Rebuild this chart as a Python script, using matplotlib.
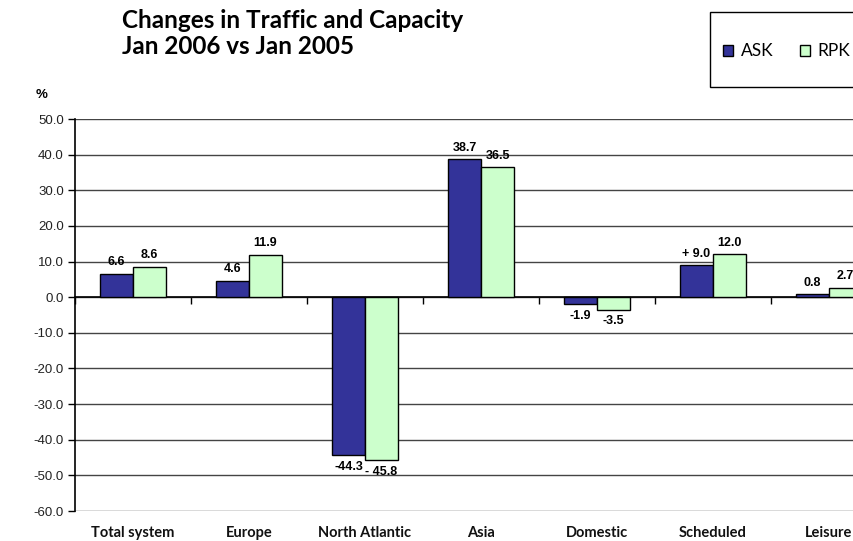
import matplotlib
matplotlib.use("Agg")
import matplotlib.pyplot as plt
import numpy as np
from matplotlib.patches import Rectangle

categories = ["Total system", "Europe", "North Atlantic", "Asia", "Domestic", "Scheduled", "Leisure"]
ask = [6.6, 4.6, -44.3, 38.7, -1.9, 9.0, 0.8]
rpk = [8.6, 11.9, -45.8, 36.5, -3.5, 12.0, 2.7]
ask_labels = ["6.6", "4.6", "-44.3", "38.7", "-1.9", "+ 9.0", "0.8"]
rpk_labels = ["8.6", "11.9", "- 45.8", "36.5", "-3.5", "12.0", "2.7"]
yticks = [50, 40, 30, 20, 10, 0, -10, -20, -30, -40, -50, -60]

W, H = 854, 541
fig = plt.figure(figsize=(W / 100, H / 100), dpi=100)
left, right = 75, 887
top, bottom = 119, 511
ax = fig.add_axes([left / W, 1 - bottom / H, (right - left) / W, (bottom - top) / H])

x = np.arange(len(categories))
bw = 0.285
ax.bar(x - bw / 2, ask, bw, color="#333399", edgecolor="black", linewidth=1, zorder=3, label="ASK")
ax.bar(x + bw / 2, rpk, bw, color="#CCFFCC", edgecolor="black", linewidth=1, zorder=3, label="RPK")

ax.set_xlim(-0.5, len(categories) - 0.5)
ax.set_ylim(-60, 50)
ax.set_yticks(yticks)
ax.set_yticklabels([f"{v:.1f}" for v in yticks], fontsize=9.5, family="Liberation Sans", color="#222222")
ax.yaxis.grid(True, color="#444444", linewidth=1, zorder=0)
ax.set_axisbelow(True)

for s in ["top", "right"]:
    ax.spines[s].set_visible(False)
ax.spines["left"].set_linewidth(1.2)
ax.spines["bottom"].set_position(("data", 0))
ax.spines["bottom"].set_linewidth(1.2)
ax.tick_params(axis="y", direction="out", length=5, width=1, pad=3)

# category boundary ticks on zero line
ax.set_xticks(np.arange(-0.5, len(categories) - 0.5 + 0.01, 1.0))
ax.set_xticklabels([])
ax.tick_params(axis="x", direction="out", length=5, width=1)

for i, c in enumerate(categories):
    ax.text(x[i], -0.056, c, transform=ax.get_xaxis_transform(), ha="center", va="center",
            fontsize=10.5, fontweight="bold", family="Lato", color="#111111")

def lab(xp, v, t):
    if v >= 0:
        ax.annotate(t, (xp, v), xytext=(0, 4), textcoords="offset points", ha="center", va="bottom",
                    fontsize=9, fontweight="bold", family="Liberation Sans", zorder=4)
    else:
        ax.annotate(t, (xp, v), xytext=(0, -4), textcoords="offset points", ha="center", va="top",
                    fontsize=9, fontweight="bold", family="Liberation Sans", zorder=4)

for i in range(len(categories)):
    lab(x[i] - bw / 2, ask[i], ask_labels[i])
    lab(x[i] + bw / 2, rpk[i], rpk_labels[i])

fig.text(42 / W, 1 - 95 / H, "%", fontsize=9.5, fontweight="bold", family="Liberation Sans", ha="center", va="center")

fig.text(122 / W, 1 - 20 / H, "Changes in Traffic and Capacity", fontsize=17.5, fontweight="bold",
         family="Lato", ha="left", va="center")
fig.text(122 / W, 1 - 46 / H, "Jan 2006 vs Jan 2005", fontsize=17.5, fontweight="bold",
         family="Lato", ha="left", va="center")

# legend box
fig.patches.append(Rectangle((710 / W, 1 - 87 / H), 160 / W, 75 / H, transform=fig.transFigure,
                             facecolor="white", edgecolor="black", linewidth=1))
fig.patches.append(Rectangle((723 / W, 1 - 56 / H), 10 / W, 11 / H, transform=fig.transFigure,
                             facecolor="#333399", edgecolor="black", linewidth=1))
fig.text(741 / W, 1 - 51 / H, "ASK", fontsize=12.5, family="Lato", ha="left", va="center")
fig.patches.append(Rectangle((800 / W, 1 - 56 / H), 10 / W, 11 / H, transform=fig.transFigure,
                             facecolor="#CCFFCC", edgecolor="black", linewidth=1))
fig.text(817 / W, 1 - 51 / H, "RPK", fontsize=12.5, family="Lato", ha="left", va="center")

fig.savefig("out.png", dpi=100)
